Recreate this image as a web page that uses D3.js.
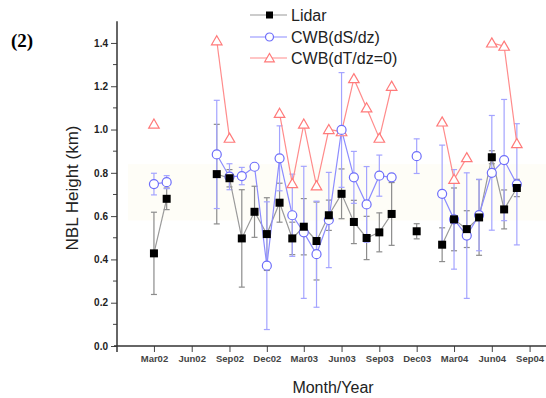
<!DOCTYPE html>
<html>
<head>
<meta charset="utf-8">
<script src="https://cdn.jsdelivr.net/npm/d3@7"></script>
<style>
  body { margin: 0; background: #fff; }
  svg { display: block; font-family: "Liberation Sans", Arial, sans-serif; }
</style>
</head>
<body>
<figure style="margin:0"></figure>
<script>
// monthly means, km
const lidarMonths = ["2002-03", "2002-04", "2002-08", "2002-09", "2002-10", "2002-11", "2002-12",
  "2003-01", "2003-02", "2003-03", "2003-04", "2003-05", "2003-06", "2003-07", "2003-08",
  "2003-09", "2003-10", "2003-12", "2004-02", "2004-03", "2004-04", "2004-05", "2004-06",
  "2004-07", "2004-08"];
const lidarValues = [0.428, 0.68, 0.794, 0.775, 0.497, 0.62, 0.517, 0.662, 0.497, 0.551, 0.485,
  0.604, 0.703, 0.573, 0.499, 0.525, 0.61, 0.53, 0.468, 0.585, 0.54, 0.594, 0.872, 0.631, 0.73];
const lidarErrors = [0.19, 0.05, 0.23, 0.04, 0.225, 0.118, 0.168, 0.09, 0.075, 0.13, 0.18,
  0.07, 0.115, 0.1, 0.1, 0.09, 0.145, 0.035, 0.078, 0.145, 0.085, 0.175, 0.03, 0.09, 0.04];

const dsMonths = lidarMonths;
const dsValues = [0.748, 0.757, 0.885, 0.782, 0.785, 0.828, 0.371, 0.867, 0.604, 0.525, 0.424,
  0.582, 0.998, 0.779, 0.654, 0.787, 0.779, 0.877, 0.703, 0.585, 0.51, 0.605, 0.8, 0.859, 0.747];
const dsErrors = [0.05, 0.03, 0.25, 0.06, 0.04, 0, 0.295, 0.15, 0.19, 0.305, 0.245, 0.22,
  0.265, 0.12, 0.175, 0.095, 0.015, 0.08, 0.225, 0.23, 0.29, 0.165, 0.265, 0.28, 0.28];

const dtMonths = ["2002-03", "2002-08", "2002-09", "2003-01", "2003-02", "2003-03", "2003-04",
  "2003-05", "2003-06", "2003-07", "2003-08", "2003-09", "2003-10", "2004-02", "2004-03",
  "2004-04", "2004-06", "2004-07", "2004-08"];
const dtValues = [1.025, 1.41, 0.96, 1.075, 0.75, 1.025, 0.74, 1.0, 0.99, 1.235, 1.1, 0.96,
  1.2, 1.035, 0.77, 0.87, 1.4, 1.385, 0.935];

const tickMonths = ["2002-03", "2002-06", "2002-09", "2002-12", "2003-03", "2003-06",
  "2003-09", "2003-12", "2004-03", "2004-06", "2004-09"];
const yTicks = [0, 0.2, 0.4, 0.6, 0.8, 1.0, 1.2, 1.4];

const seriesNames = ["Lidar", "CWB(dS/dz)", "CWB(dT/dz=0)"];

const parseMonth = d3.timeParse("%Y-%m");
const fmtMonth = d3.timeFormat("%b%y");

const width = 546;
const height = 398;

const colors = {
  lidarLine: "#9a9a9a", lidarErr: "#8c8c8c",
  dsLine: "#8c8cff", dsErr: "#a4a4ff", dsMark: "#6e6efa",
  dtLine: "#ff8c8c", dtMark: "#ff7a7a"
};

function monthIndex(m) {
  const d = parseMonth(m);
  return d.getFullYear() * 12 + d.getMonth();
}

// split a series into runs of consecutive months
function runs(months, values) {
  const out = [];
  let cur = [];
  months.forEach((m, i) => {
    if (cur.length && monthIndex(m) - monthIndex(months[i - 1]) !== 1) {
      out.push(cur);
      cur = [];
    }
    cur.push({ date: parseMonth(m), v: values[i] });
  });
  if (cur.length) out.push(cur);
  return out;
}

const draw = () => {
  const svg = d3.select("figure").append("svg")
    .attr("width", width).attr("height", height);

  const x = d3.scaleTime()
    .domain([new Date(2001, 11, 1), new Date(2004, 9, 11)])
    .range([117, 546]);
  const y = d3.scaleLinear().domain([0, 1.5]).range([346, 21.3]);

  // faint pale band from the scan
  svg.append("rect")
    .attr("x", 128).attr("y", y(0.84)).attr("width", 418).attr("height", y(0.58) - y(0.84))
    .attr("fill", "#fefdf7");

  // axes
  const yAxis = svg.append("g").attr("transform", "translate(117,0)");
  yAxis.call(d3.axisLeft(y).tickValues(yTicks).tickFormat(d3.format(".1f")).tickSize(6).tickSizeOuter(0))
    .call((g) => g.select(".domain").remove());
  yAxis.selectAll(".tick line").attr("stroke", "#444");
  yAxis.selectAll(".tick text")
    .attr("font-size", 10).attr("font-weight", "bold").attr("fill", "#222")
    .attr("font-family", "Liberation Sans, Arial, sans-serif").attr("x", -9);
  yAxis.selectAll(".minor")
    .data(d3.range(0.1, 1.5, 0.2))
    .join("line")
    .attr("class", "minor")
    .attr("x1", -4).attr("x2", 0)
    .attr("y1", (d) => y(d)).attr("y2", (d) => y(d))
    .attr("stroke", "#444");
  yAxis.append("line")
    .attr("x1", 0).attr("x2", 0).attr("y1", y(1.5)).attr("y2", 352)
    .attr("stroke", "#333").attr("stroke-width", 1.5);

  const xAxis = svg.append("g").attr("transform", "translate(0,346)");
  xAxis.call(d3.axisBottom(x).tickValues(tickMonths.map(parseMonth)).tickFormat(fmtMonth)
    .tickSize(6).tickSizeOuter(0))
    .call((g) => g.select(".domain").remove());
  xAxis.selectAll(".tick line").attr("stroke", "#444");
  xAxis.selectAll(".tick text")
    .attr("font-size", 9.5).attr("font-weight", "bold").attr("fill", "#444")
    .attr("font-family", "Liberation Sans, Arial, sans-serif").attr("y", 9);
  xAxis.append("line")
    .attr("x1", 114).attr("x2", 546).attr("y1", 0).attr("y2", 0)
    .attr("stroke", "#333").attr("stroke-width", 1.5);

  // axis titles
  svg.append("text")
    .attr("transform", `translate(78,${y(0.73)}) rotate(-90)`)
    .attr("text-anchor", "middle")
    .attr("font-size", 17).attr("fill", "#222")
    .text("NBL Height (km)");
  svg.append("text")
    .attr("x", 333).attr("y", 393)
    .attr("text-anchor", "middle")
    .attr("font-size", 16).attr("fill", "#222")
    .text("Month/Year");
  svg.append("text")
    .attr("x", 11).attr("y", 47)
    .attr("font-family", "Liberation Serif, Times New Roman, serif")
    .attr("font-weight", "bold").attr("font-size", 19)
    .text("(2)");

  const line = d3.line().x((d) => x(d.date)).y((d) => y(d.v));

  function errorBars(months, values, errs, color) {
    const g = svg.append("g").attr("stroke", color).attr("stroke-width", 1.2);
    const data = months.map((m, i) => ({ date: parseMonth(m), v: values[i], e: errs[i] }))
      .filter((d) => d.e > 0);
    g.selectAll("line.bar").data(data).join("line").attr("class", "bar")
      .attr("x1", (d) => x(d.date)).attr("x2", (d) => x(d.date))
      .attr("y1", (d) => y(d.v - d.e)).attr("y2", (d) => y(d.v + d.e));
    ["lo", "hi"].forEach((k) => {
      g.selectAll(`line.${k}`).data(data).join("line").attr("class", k)
        .attr("x1", (d) => x(d.date) - 3).attr("x2", (d) => x(d.date) + 3)
        .attr("y1", (d) => y(k === "lo" ? d.v - d.e : d.v + d.e))
        .attr("y2", (d) => y(k === "lo" ? d.v - d.e : d.v + d.e));
    });
  }

  function lines(months, values, color) {
    svg.append("g").selectAll("path").data(runs(months, values)).join("path")
      .attr("d", line).attr("fill", "none").attr("stroke", color).attr("stroke-width", 1.2);
  }

  errorBars(lidarMonths, lidarValues, lidarErrors, colors.lidarErr);
  errorBars(dsMonths, dsValues, dsErrors, colors.dsErr);

  lines(lidarMonths, lidarValues, colors.lidarLine);
  lines(dsMonths, dsValues, colors.dsLine);
  lines(dtMonths, dtValues, colors.dtLine);

  const tri = d3.symbol().type(d3.symbolTriangle).size(48);

  svg.append("g").selectAll("path")
    .data(dtMonths.map((m, i) => ({ date: parseMonth(m), v: dtValues[i] })))
    .join("path")
    .attr("d", tri)
    .attr("transform", (d) => `translate(${x(d.date)},${y(d.v) + 1})`)
    .attr("fill", "white").attr("stroke", colors.dtMark).attr("stroke-width", 1.2);

  svg.append("g").selectAll("circle")
    .data(dsMonths.map((m, i) => ({ date: parseMonth(m), v: dsValues[i] })))
    .join("circle")
    .attr("cx", (d) => x(d.date)).attr("cy", (d) => y(d.v)).attr("r", 4.5)
    .attr("fill", "white").attr("stroke", colors.dsMark).attr("stroke-width", 1.2);

  svg.append("g").selectAll("rect")
    .data(lidarMonths.map((m, i) => ({ date: parseMonth(m), v: lidarValues[i] })))
    .join("rect")
    .attr("x", (d) => x(d.date) - 4).attr("y", (d) => y(d.v) - 4)
    .attr("width", 8).attr("height", 8)
    .attr("fill", "#000");

  // legend
  const legend = svg.append("g").attr("transform", "translate(250,0)");
  const legendRows = legend.selectAll("g").data(seriesNames).join("g")
    .attr("transform", (_, i) => `translate(0,${[15, 37, 58][i]})`);
  legendRows.append("line")
    .attr("x1", 0).attr("x2", 37)
    .attr("stroke", (_, i) => [colors.lidarLine, colors.dsLine, colors.dtLine][i])
    .attr("stroke-width", 1.2);
  legendRows.each(function (name, i) {
    const g = d3.select(this);
    if (i === 0) {
      g.append("rect").attr("x", 16).attr("y", -3.5).attr("width", 7).attr("height", 7).attr("fill", "#000");
    } else if (i === 1) {
      g.append("circle").attr("cx", 19.5).attr("r", 4).attr("fill", "white")
        .attr("stroke", colors.dsMark).attr("stroke-width", 1.2);
    } else {
      g.append("path").attr("d", d3.symbol().type(d3.symbolTriangle).size(40))
        .attr("transform", "translate(19.5,1)")
        .attr("fill", "white").attr("stroke", colors.dtMark).attr("stroke-width", 1.2);
    }
    g.append("text").attr("x", 41).attr("y", 5.5)
      .attr("font-size", 16).attr("fill", "#222").text(name);
  });
};

draw();
</script>
</body>
</html>
